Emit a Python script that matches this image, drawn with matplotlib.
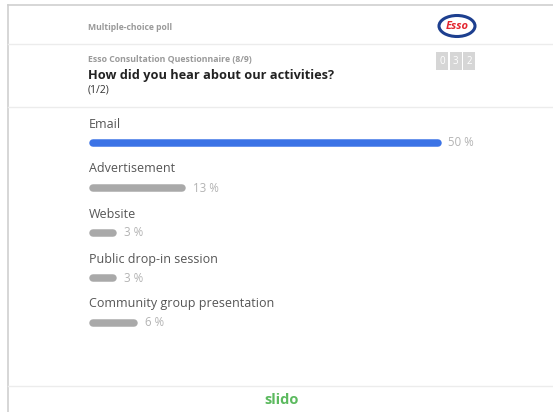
import matplotlib.pyplot as plt
from matplotlib.patches import Ellipse, Rectangle

plt.rcParams['font.family'] = ['Open Sans', 'DejaVu Sans']

# poll data
options = ['Email', 'Advertisement', 'Website', 'Public drop-in session',
           'Community group presentation']
percents = [50, 13, 3, 3, 6]
counter_digits = ['0', '3', '2']

header_kind = 'Multiple-choice poll'
subtitle = 'Esso Consultation Questionnaire (8/9)'
question = 'How did you hear about our activities?'
page = '(1/2)'

fig = plt.figure(figsize=(5.53, 4.12), dpi=100)

# background "card" drawn in pixel coords
bg = fig.add_axes([0, 0, 1, 1])
bg.set_xlim(0, 553)
bg.set_ylim(412, 0)
bg.axis('off')

bg.plot([8, 8], [5, 412], color='#cfcfcf', lw=1.2)
bg.plot([8, 553], [5, 5], color='#cfcfcf', lw=1.2)
for yy in [44, 107, 386]:
    bg.plot([8, 553], [yy, yy], color='#ececec', lw=1)

bg.text(88, 27, header_kind, fontsize=6.2, fontweight='bold', color='#9a9a9a', va='center')
bg.text(88, 59, subtitle, fontsize=6.3, fontweight='bold', color='#9a9a9a', va='center')
bg.text(88, 75, question, fontsize=9.2, fontweight='bold', color='#222222', va='center')
bg.text(88, 90, page, fontsize=7.5, color='#333333', va='center')

# Esso logo
bg.add_patch(Ellipse((457, 26), 36, 21, facecolor='white', edgecolor='#1d3f8f', lw=2.2))
bg.text(457, 26.5, 'Esso', fontsize=8, fontweight='bold', fontstyle='italic',
        color='#e3262f', ha='center', va='center')

# response counter
for k, d in enumerate(counter_digits):
    x0 = 436 + k * 13.5
    bg.add_patch(Rectangle((x0, 52), 12, 18, facecolor='#d6d6d6', edgecolor='none'))
    bg.text(x0 + 6, 61, d, fontsize=7, color='white', ha='center', va='center')

bg.text(282, 400, 'slido', fontsize=10.5, fontweight='bold', color='#5cba5f',
        ha='center', va='center')

# bars
ax = fig.add_axes([92.5 / 553, (412 - 345.5) / 412, 345 / 553, 247.5 / 412])
ax.set_xlim(0, 50)
ax.set_ylim(4.5, -1)
ax.axis('off')

for i, (name, p) in enumerate(zip(options, percents)):
    col = '#3b73e6' if i == 0 else '#a9a9a9'
    ax.plot([0, p], [i, i], color=col, lw=5.4, solid_capstyle='round', clip_on=False)
    ax.annotate(name, (0, i), xytext=(-3.5, 19), textcoords='offset pixels',
                fontsize=9, color='#555555', va='center', annotation_clip=False)
    ax.annotate(f'{p} %', (p, i), xytext=(11, 0), textcoords='offset pixels',
                fontsize=8.3, color='#b3b3b3', va='center', annotation_clip=False)

plt.savefig('out.png', dpi=100)
